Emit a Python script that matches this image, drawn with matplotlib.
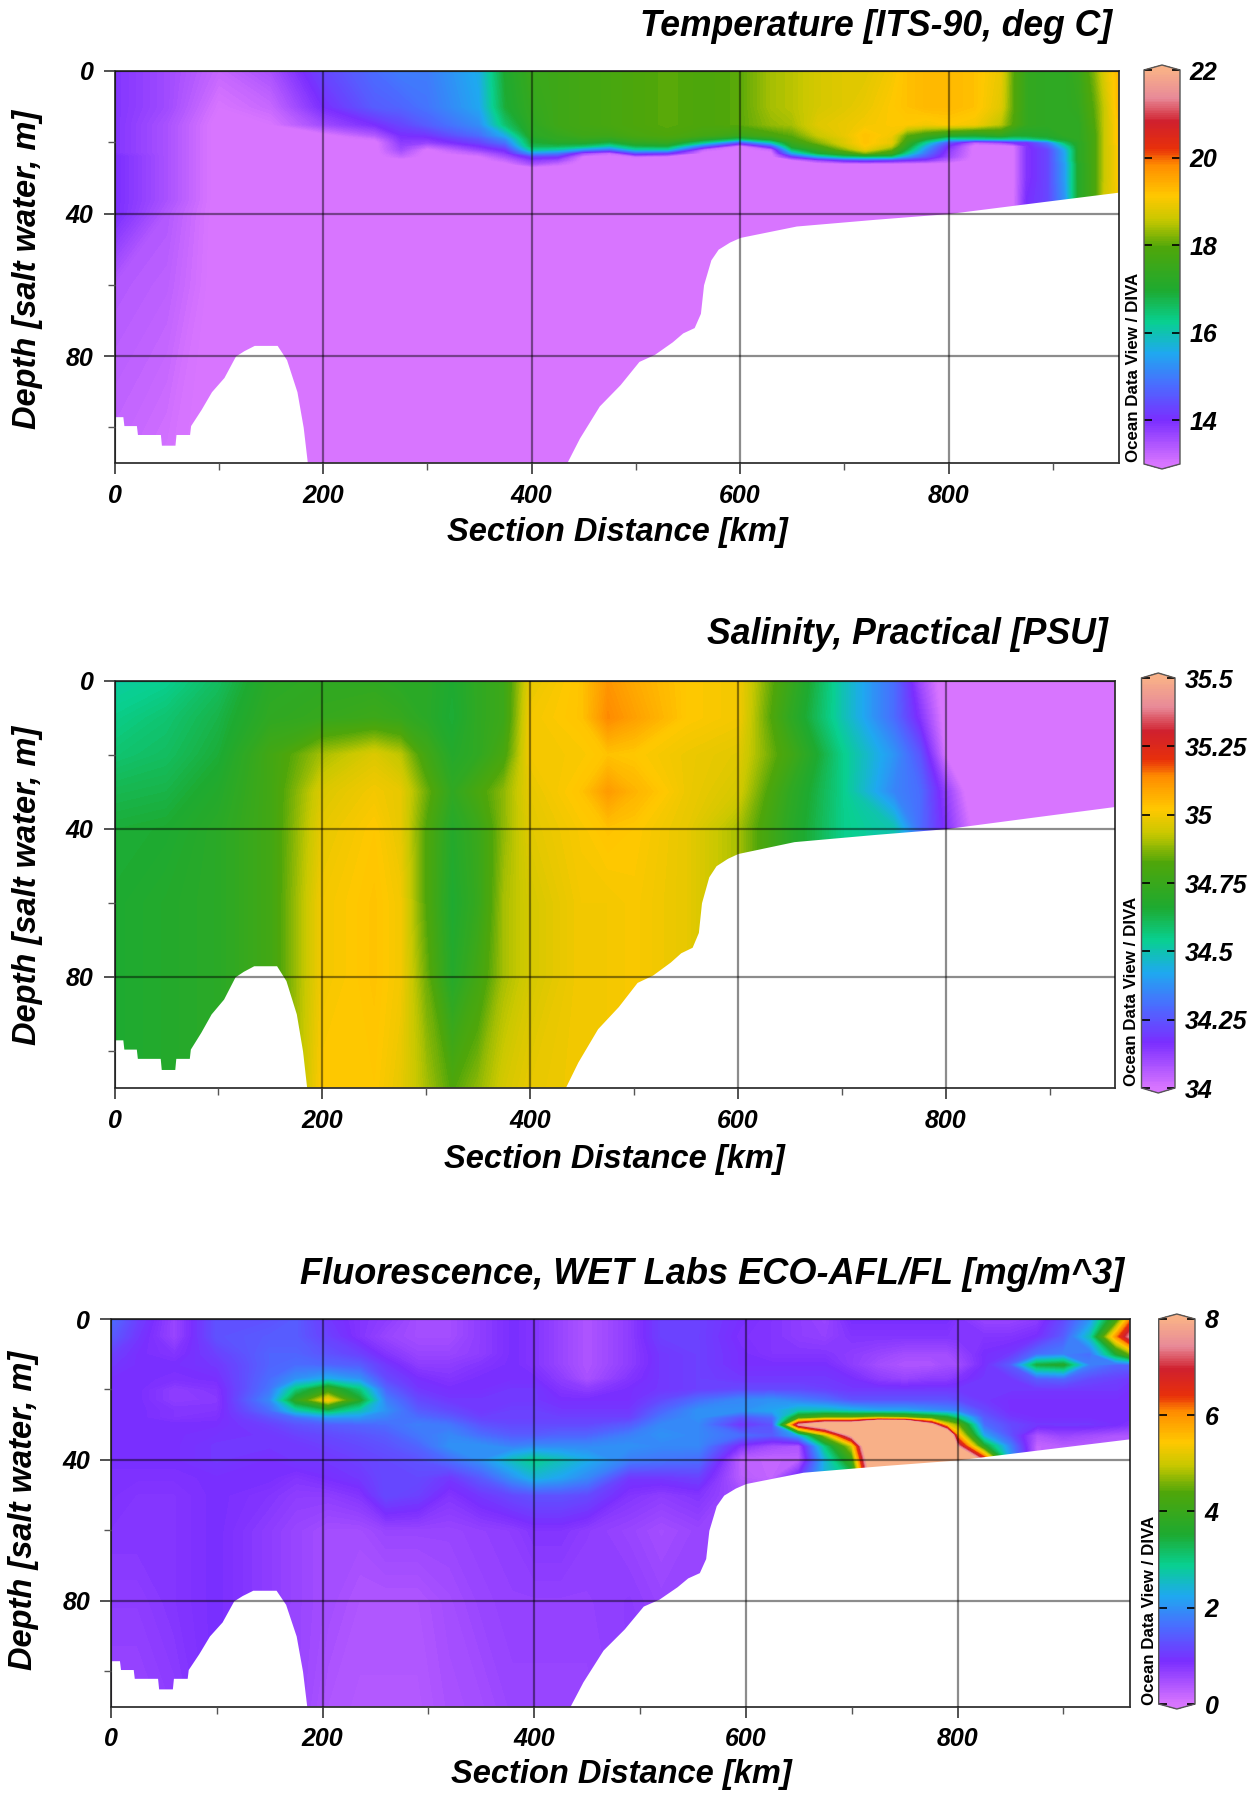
import numpy as np
import matplotlib
matplotlib.use('Agg')
import matplotlib.pyplot as plt
from matplotlib.colors import LinearSegmentedColormap

plt.rcParams['font.family'] = ['Liberation Sans', 'DejaVu Sans']
plt.rcParams['font.weight'] = 'bold'
plt.rcParams['font.style'] = 'italic'

W, H = 1257, 1794

# seafloor, same for all sections
bottom_x = [0, 8, 9, 21, 22, 44, 45, 58, 59, 72, 73, 83, 93, 105, 116, 124, 134, 156, 165, 175, 181, 185, 188,
            432, 446, 465, 485, 503, 518, 535, 545, 556, 562, 565, 568, 572, 579, 590, 600, 654, 730, 800, 873, 963]
bottom_z = [97, 97, 99.5, 99.5, 102, 102, 105, 105, 102, 102, 99.5, 95, 90, 86, 80, 78.5, 77, 77, 81, 90, 100, 110, 111,
            111, 103, 94, 88, 81.5, 79.5, 76, 73.5, 72, 68, 60, 57, 53, 50, 48, 46.7, 43.5, 41.6, 40, 37.3, 34]

# temperature, one line per station
temp_x = [0, 50, 100, 150, 200, 250, 275, 300, 350, 375, 400, 425, 450, 475, 500, 530, 565, 600, 630, 650, 675, 700,
          720, 745, 760, 778, 800, 825, 850, 862, 875, 895, 912, 925, 940, 950, 963]
temp_z = [0, 10, 15, 18, 19, 20, 21, 22, 23, 24, 25, 26, 27, 30, 36, 40, 60, 110]
temp = [
    [13.9, 13.9, 13.9, 13.9, 13.9, 13.9, 13.9, 13.9, 13.9, 14.0, 14.0, 14.0, 14.0, 14.0, 14.0, 14.0, 13.4, 13.2],
    [13.6, 13.6, 13.5, 13.5, 13.5, 13.5, 13.5, 13.5, 13.5, 13.5, 13.5, 13.5, 13.5, 13.5, 13.5, 13.4, 13.3, 13.05],
    [13.2, 13.0, 12.9, 12.9, 12.9, 12.9, 12.9, 12.9, 12.9, 12.9, 12.9, 12.9, 12.9, 12.9, 12.9, 12.9, 12.9, 12.9],
    [13.5, 13.2, 13.0, 12.9, 12.9, 12.9, 12.9, 12.9, 12.9, 12.9, 12.9, 12.9, 12.9, 12.9, 12.9, 12.9, 12.9, 12.9],
    [14.3, 14.0, 13.6, 12.9, 12.9, 12.9, 12.9, 12.9, 12.9, 12.9, 12.9, 12.9, 12.9, 12.9, 12.9, 12.9, 12.9, 12.9],
    [14.8, 14.6, 14.0, 13.4, 13.1, 12.9, 12.9, 12.9, 12.9, 12.9, 12.9, 12.9, 12.9, 12.9, 12.9, 12.9, 12.9, 12.9],
    [15.0, 14.7, 14.3, 14.0, 13.9, 13.8, 13.7, 13.6, 13.4, 13.2, 12.9, 12.9, 12.9, 12.9, 12.9, 12.9, 12.9, 12.9],
    [15.0, 14.9, 14.6, 14.1, 13.9, 13.7, 13.3, 12.95, 12.9, 12.9, 12.9, 12.9, 12.9, 12.9, 12.9, 12.9, 12.9, 12.9],
    [15.6, 15.5, 15.2, 14.8, 14.5, 14.3, 14.0, 13.7, 13.3, 13.0, 12.9, 12.9, 12.9, 12.9, 12.9, 12.9, 12.9, 12.9],
    [17.0, 16.9, 16.5, 15.6, 15.2, 14.9, 14.5, 14.1, 13.8, 13.5, 13.2, 12.95, 12.9, 12.9, 12.9, 12.9, 12.9, 12.9],
    [17.5, 17.4, 17.3, 17.2, 17.0, 16.9, 16.7, 16.2, 15.3, 14.2, 13.8, 13.5, 13.0, 12.9, 12.9, 12.9, 12.9, 12.9],
    [17.6, 17.6, 17.6, 17.4, 17.3, 17.1, 16.7, 16.0, 15.0, 14.1, 13.6, 13.2, 12.9, 12.9, 12.9, 12.9, 12.9, 12.9],
    [17.7, 17.7, 17.7, 17.6, 17.4, 17.1, 16.5, 15.3, 13.6, 12.95, 12.9, 12.9, 12.9, 12.9, 12.9, 12.9, 12.9, 12.9],
    [17.8, 17.8, 17.8, 17.6, 17.3, 16.8, 16.0, 14.8, 13.2, 12.9, 12.9, 12.9, 12.9, 12.9, 12.9, 12.9, 12.9, 12.9],
    [17.9, 17.9, 17.9, 17.8, 17.6, 17.3, 16.8, 16.0, 14.5, 13.1, 12.9, 12.9, 12.9, 12.9, 12.9, 12.9, 12.9, 12.9],
    [18.0, 18.0, 18.0, 17.9, 17.7, 17.4, 16.9, 16.0, 14.2, 12.95, 12.9, 12.9, 12.9, 12.9, 12.9, 12.9, 12.9, 12.9],
    [17.9, 17.9, 17.9, 17.7, 17.2, 16.3, 14.8, 13.2, 12.9, 12.9, 12.9, 12.9, 12.9, 12.9, 12.9, 12.9, 12.9, 12.9],
    [18.0, 18.0, 18.0, 17.5, 16.5, 14.5, 12.95, 12.9, 12.9, 12.9, 12.9, 12.9, 12.9, 12.9, 12.9, 12.9, 12.9, 12.9],
    [18.4, 18.4, 18.3, 17.8, 17.2, 16.0, 14.5, 13.2, 12.9, 12.9, 12.9, 12.9, 12.9, 12.9, 12.9, 12.9, 12.9, 12.9],
    [18.5, 18.5, 18.4, 18.0, 17.8, 17.5, 17.2, 16.5, 15.5, 14.0, 13.0, 12.9, 12.9, 12.9, 12.9, 12.9, 12.9, 12.9],
    [18.7, 18.7, 18.8, 18.6, 18.4, 18.2, 17.8, 17.4, 16.9, 15.5, 13.6, 12.9, 12.9, 12.9, 12.9, 12.9, 12.9, 12.9],
    [18.8, 18.8, 18.9, 18.9, 18.8, 18.8, 18.6, 18.2, 17.5, 16.3, 14.2, 13.0, 12.9, 12.9, 12.9, 12.9, 12.9, 12.9],
    [18.8, 18.9, 19.0, 19.2, 19.2, 19.2, 19.1, 18.9, 18.2, 16.5, 14.4, 13.0, 12.9, 12.9, 12.9, 12.9, 12.9, 12.9],
    [19.0, 19.1, 19.1, 19.0, 18.9, 18.9, 18.6, 18.1, 17.6, 16.4, 14.2, 13.0, 12.9, 12.9, 12.9, 12.9, 12.9, 12.9],
    [19.2, 19.2, 19.1, 18.0, 17.8, 17.5, 17.2, 16.8, 16.2, 15.3, 14.0, 12.95, 12.9, 12.9, 12.9, 12.9, 12.9, 12.9],
    [19.3, 19.3, 19.0, 17.6, 17.0, 16.2, 15.6, 15.2, 14.9, 14.5, 13.8, 12.95, 12.9, 12.9, 12.9, 12.9, 12.9, 12.9],
    [19.3, 19.3, 19.1, 17.2, 16.0, 14.5, 14.0, 13.8, 13.7, 13.6, 13.3, 12.95, 12.9, 12.9, 12.9, 12.9, 12.9, 12.9],
    [19.2, 19.2, 19.0, 17.0, 16.2, 13.3, 12.9, 12.9, 12.9, 12.9, 12.9, 12.9, 12.9, 12.9, 12.9, 12.9, 12.9, 12.9],
    [18.9, 18.8, 18.5, 17.3, 16.3, 13.6, 12.9, 12.9, 12.9, 12.9, 12.9, 12.9, 12.9, 12.9, 12.9, 12.9, 12.9, 12.9],
    [18.0, 18.0, 17.9, 17.0, 16.2, 14.0, 13.0, 12.95, 12.95, 12.95, 12.95, 12.95, 12.95, 12.95, 12.95, 12.95, 12.95, 12.95],
    [17.4, 17.4, 17.4, 17.0, 16.3, 14.0, 13.9, 13.9, 13.9, 13.9, 13.9, 13.9, 13.9, 13.9, 14.0, 14.0, 14.0, 14.0],
    [17.3, 17.3, 17.3, 17.1, 16.7, 15.0, 14.6, 14.3, 14.3, 14.3, 14.3, 14.3, 14.3, 14.3, 14.3, 14.3, 14.3, 14.3],
    [17.3, 17.3, 17.3, 17.3, 17.1, 16.6, 16.0, 15.6, 15.5, 15.5, 15.5, 15.4, 15.4, 15.4, 15.3, 15.3, 15.3, 15.3],
    [17.5, 17.4, 17.3, 17.3, 17.3, 17.2, 17.2, 17.2, 17.2, 17.2, 17.2, 17.1, 17.1, 17.1, 17.1, 17.1, 17.1, 17.1],
    [18.2, 18.0, 17.9, 17.8, 17.8, 17.8, 17.8, 17.8, 17.8, 17.8, 17.8, 17.8, 17.8, 17.8, 17.8, 17.8, 17.8, 17.8],
    [18.8, 18.6, 18.6, 18.6, 18.6, 18.6, 18.6, 18.6, 18.6, 18.6, 18.6, 18.6, 18.6, 18.6, 18.7, 18.7, 18.7, 18.7],
    [19.3, 19.3, 19.2, 19.2, 19.2, 19.2, 19.1, 19.1, 19.1, 19.1, 19.1, 19.1, 19.1, 19.1, 19.0, 18.3, 18.3, 18.3],
]

# salinity
sal_x = [0, 50, 100, 150, 200, 250, 275, 300, 325, 350, 375, 400, 450, 475, 500, 550, 600, 650, 700, 750, 775, 800,
         825, 963]
sal_z = [0, 10, 20, 30, 40, 60, 80, 110]
sal = [
    [34.52, 34.55, 34.58, 34.62, 34.65, 34.66, 34.66, 34.66],
    [34.54, 34.58, 34.60, 34.63, 34.66, 34.68, 34.68, 34.68],
    [34.60, 34.63, 34.65, 34.68, 34.70, 34.70, 34.70, 34.70],
    [34.70, 34.72, 34.78, 34.78, 34.78, 34.78, 34.78, 34.78],
    [34.72, 34.74, 34.90, 34.96, 34.98, 35.00, 35.00, 35.02],
    [34.72, 34.76, 34.96, 35.00, 35.02, 35.03, 35.03, 35.02],
    [34.70, 34.74, 34.92, 34.98, 34.98, 35.00, 35.00, 34.98],
    [34.70, 34.70, 34.78, 34.85, 34.82, 34.82, 34.85, 34.90],
    [34.66, 34.65, 34.68, 34.72, 34.68, 34.66, 34.68, 34.82],
    [34.72, 34.72, 34.72, 34.80, 34.75, 34.74, 34.78, 34.88],
    [34.76, 34.76, 34.80, 34.88, 34.88, 34.90, 34.90, 34.95],
    [34.98, 35.00, 35.00, 34.98, 34.97, 34.95, 34.95, 34.98],
    [35.03, 35.03, 35.01, 35.03, 35.01, 35.00, 35.00, 35.00],
    [35.12, 35.14, 35.03, 35.11, 35.03, 35.00, 35.00, 35.00],
    [35.08, 35.10, 35.02, 35.06, 35.02, 35.01, 35.01, 35.01],
    [35.02, 35.02, 34.99, 34.99, 34.98, 34.98, 34.98, 34.98],
    [35.00, 35.00, 34.97, 34.95, 34.90, 34.90, 34.90, 34.90],
    [34.75, 34.72, 34.78, 34.72, 34.70, 34.70, 34.70, 34.70],
    [34.50, 34.50, 34.55, 34.55, 34.55, 34.55, 34.55, 34.55],
    [34.30, 34.30, 34.38, 34.35, 34.50, 34.50, 34.50, 34.50],
    [34.10, 34.15, 34.25, 34.30, 34.30, 34.30, 34.30, 34.30],
    [33.95, 33.97, 34.00, 34.12, 34.15, 34.15, 34.15, 34.15],
    [33.90, 33.90, 33.92, 33.95, 34.00, 34.00, 34.00, 34.00],
    [33.90, 33.90, 33.90, 33.90, 33.90, 33.90, 33.90, 33.90],
]

# fluorescence
flu_x = [0, 25, 60, 100, 150, 175, 205, 235, 260, 290, 320, 350, 380, 400, 425, 450, 490, 520, 555, 595, 625, 650,
         675, 700, 725, 750, 775, 790, 800, 825, 850, 875, 900, 925, 950, 963]
flu_z = [0, 5, 10, 13, 17, 20, 23, 26, 28, 30, 33, 36, 40, 45, 50, 60, 80, 110]
flu = [
    [1.6, 1.4, 1.1, 1.0, .9, .9, .9, .9, .9, .9, .9, .9, .9, .85, .85, .8, .7, .6],
    [1.1, 1.0, .9, .9, .9, .9, .9, .9, .9, .9, .9, .9, .9, .85, .8, .8, .7, .6],
    [.6, .6, .8, .9, .85, .7, .7, .8, .8, .9, .9, .9, .9, .85, .8, .8, .8, .7],
    [1.3, 1.3, 1.1, 1.0, .9, .8, .75, .8, .85, .9, .95, 1.0, 1.0, .9, .9, .9, .9, .9],
    [1.3, 1.4, 1.5, 1.5, 1.6, 1.7, 1.9, 1.6, 1.3, 1.1, 1.0, 1.0, .9, .9, .8, .7, .7, .6],
    [1.4, 1.4, 1.5, 1.6, 2.0, 3.0, 3.8, 2.6, 1.6, 1.3, 1.1, 1.0, 1.0, .8, .7, .6, .6, .6],
    [1.0, 1.1, 1.3, 1.5, 2.3, 4.0, 5.4, 3.2, 2.0, 1.4, 1.2, 1.1, 1.0, .9, .7, .5, .5, .4],
    [.8, .8, 1.1, 1.4, 2.0, 3.0, 3.6, 2.6, 2.0, 1.5, 1.3, 1.2, 1.1, 1.0, .8, .5, .4, .35],
    [.7, .6, .8, 1.0, 1.2, 1.5, 1.8, 2.0, 1.8, 1.6, 1.4, 1.3, 1.2, 1.2, 1.2, .6, .4, .35],
    [.5, .5, .6, .7, .9, 1.0, 1.2, 1.4, 1.6, 1.8, 1.7, 1.5, 1.3, 1.2, 1.1, .6, .4, .35],
    [.5, .5, .6, .7, .8, .9, 1.0, 1.2, 1.4, 1.7, 1.9, 2.0, 1.6, 1.0, .8, .6, .5, .45],
    [.7, .7, .7, .8, .9, .9, 1.0, 1.0, 1.1, 1.3, 1.6, 2.0, 2.0, 1.4, 1.0, .65, .6, .5],
    [.9, .9, .9, .9, .9, 1.0, 1.0, 1.1, 1.1, 1.2, 1.4, 1.8, 2.6, 2.0, 1.2, .7, .65, .6],
    [.8, .8, .8, .8, .9, 1.0, 1.0, 1.1, 1.1, 1.2, 1.4, 1.9, 2.9, 2.4, 1.3, .8, .65, .6],
    [.6, .6, .6, .6, .7, .8, .9, 1.0, 1.1, 1.2, 1.5, 1.9, 2.6, 2.2, 1.3, .8, .65, .6],
    [.4, .4, .4, .4, .45, .7, .9, 1.0, 1.1, 1.2, 1.5, 1.9, 2.3, 1.9, 1.2, .7, .65, .6],
    [.7, .7, .7, .7, .8, .9, .9, 1.0, 1.1, 1.4, 1.8, 2.0, 1.8, 1.0, .8, .6, .7, .7],
    [1.1, 1.1, 1.0, 1.0, 1.0, 1.0, 1.2, 1.5, 1.7, 1.9, 2.0, 1.9, 1.7, 1.0, .7, .5, .6, .7],
    [1.1, 1.1, 1.1, 1.1, 1.1, 1.1, 1.6, 2.0, 2.0, 1.9, 1.9, 1.9, 1.6, 1.1, .8, .6, .6, .6],
    [.9, .85, .9, .9, 1.0, 1.2, 1.9, 2.0, 1.3, .95, 1.6, .8, .25, .3, .5, .6, .6, .5],
    [.8, .8, .8, .9, 1.0, 1.2, 2.0, 2.2, 1.6, 1.3, 1.4, .5, .2, .2, .5, .6, .6, .5],
    [.7, .7, .8, .9, 1.0, 1.2, 1.8, 2.6, 4.0, 7.5, 2.2, .4, .25, 1.0, 1.0, 1.0, 1.0, 1.0],
    [.6, .65, .8, .9, 1.0, 1.1, 1.6, 2.6, 4.5, 9.0, 4.8, 3.0, 2.4, 2.4, 2.4, 2.4, 2.4, 2.4],
    [.9, .8, .7, .7, .9, 1.0, 1.3, 2.4, 4.5, 9.0, 8.0, 5.0, 4.0, 3.0, 3.0, 3.0, 3.0, 3.0],
    [.9, .8, .6, .5, .7, 1.0, 1.3, 2.2, 4.8, 12, 12, 12, 11, 10, 10, 10, 10, 10],
    [.9, .8, .5, .4, .6, 1.0, 1.3, 2.2, 4.6, 12, 12, 12, 12, 12, 12, 12, 12, 12],
    [.9, .8, .5, .4, .7, 1.0, 1.3, 2.0, 4.0, 8.0, 12, 12, 12, 12, 12, 12, 12, 12],
    [.9, .8, .5, .5, .7, 1.0, 1.3, 1.9, 3.6, 5.2, 10, 12, 12, 12, 12, 12, 12, 12],
    [.8, .8, .6, .5, .8, 1.0, 1.2, 1.8, 3.0, 4.6, 5.8, 7.5, 12, 12, 12, 12, 12, 12],
    [.6, .8, .9, .9, 1.0, 1.0, 1.0, 1.2, 1.4, 1.6, 2.2, 3.6, 7.0, 7.0, 7.0, 7.0, 7.0, 7.0],
    [.6, .8, 1.0, 1.4, 1.0, 1.0, .9, .9, 1.0, 1.2, 1.3, 1.8, 2.2, 2.2, 2.2, 2.2, 2.2, 2.2],
    [.7, .9, 1.6, 3.4, 1.4, 1.0, .9, .9, .9, 1.0, .4, .2, .2, .2, .2, .2, .2, .2],
    [1.2, 1.4, 1.8, 3.6, 1.5, 1.0, .9, .9, .9, 1.0, .6, .3, .3, .3, .3, .3, .3, .3],
    [2.0, 2.6, 1.6, 1.8, 1.2, 1.0, .9, .9, .9, 1.0, .5, .3, .3, .3, .3, .3, .3, .3],
    [4.0, 6.0, 3.5, 1.5, 1.1, 1.0, .9, .9, .9, .9, .4, .3, .3, .3, .3, .3, .3, .3],
    [6.0, 7.5, 4.5, 1.5, 1.0, .9, .9, .9, .9, .8, .4, .3, .3, .3, .3, .3, .3, .3],
]

temp_ticks = [14, 16, 18, 20, 22]
sal_ticks = [34, 34.25, 34.5, 34.75, 35, 35.25, 35.5]
flu_ticks = [0, 2, 4, 6, 8]

odv = LinearSegmentedColormap.from_list('odv', [
    (0.0, '#D875FF'), (0.11, '#7A2EFF'), (0.2, '#4A6CFF'), (0.28, '#1FA8F0'), (0.36, '#08D090'),
    (0.44, '#1EAA30'), (0.55, '#4FA60A'), (0.62, '#C8C800'), (0.68, '#FFC800'), (0.76, '#FF8C00'),
    (0.80, '#E8300A'), (0.87, '#D0202E'), (0.93, '#E88A98'), (1.0, '#F8B088')], N=512)
odv.set_under('#D875FF')
odv.set_over('#F8B088')

fig = plt.figure(figsize=(W / 100, H / 100), dpi=100)


def box(l, t, r, b):
    return [l / W, 1 - b / H, (r - l) / W, (b - t) / H]


def section(rect, cbar_rect, xs, zs, values, vmin, vmax, ticks, labels, title, title_pos, title_size, xlabel_pos,
            ylabel_pos, odv_y, odv_x):
    ax = fig.add_axes(box(*rect))
    v = np.array(values).T
    levels = np.linspace(vmin, vmax, 220)
    cs = ax.contourf(xs, zs, v, levels=levels, cmap=odv, extend='both', zorder=1)
    ax.fill_between(bottom_x, bottom_z, 111, color='white', lw=0, zorder=2)
    ax.set_xlim(0, 963)
    ax.set_ylim(110, 0)
    ax.set_xticks([0, 200, 400, 600, 800])
    ax.set_xticks([100, 300, 500, 700, 900], minor=True)
    ax.set_yticks([0, 40, 80])
    ax.set_yticks([20, 60, 100], minor=True)
    ax.tick_params(axis='both', which='major', length=8, width=1.2, labelsize=18, pad=7, color='#333333')
    ax.tick_params(axis='both', which='minor', length=5, width=1.0, color='#555555')
    ax.grid(True, which='major', color='black', alpha=0.45, lw=1.6, zorder=3)
    ax.set_axisbelow(False)
    for s in ax.spines.values():
        s.set_color('#333333')
        s.set_linewidth(1.3)

    # colour bar, rect includes the small end caps
    t, b = cbar_rect[1], cbar_rect[3]
    cax = fig.add_axes(box(cbar_rect[0], t - 5, cbar_rect[2], b + 5))
    cb = fig.colorbar(cs, cax=cax, extendfrac=5 / (b - t), ticks=ticks)
    cb.ax.set_yticklabels(labels)
    cb.ax.tick_params(which='major', direction='in', left=True, right=True, length=6, width=1.2, labelsize=18, pad=7)
    cb.ax.minorticks_off()
    cb.outline.set_edgecolor('#555555')
    cb.outline.set_linewidth(1.0)

    fig.text(title_pos[0] / W, 1 - title_pos[1] / H, title, fontsize=title_size, ha='right', va='center')
    fig.text(xlabel_pos[0] / W, 1 - xlabel_pos[1] / H, 'Section Distance [km]', fontsize=23.5, ha='center', va='center')
    fig.text(ylabel_pos[0] / W, 1 - ylabel_pos[1] / H, 'Depth [salt water, m]', fontsize=23.5, rotation=90,
             ha='center', va='center')
    fig.text(odv_x / W, 1 - odv_y / H, 'Ocean Data View / DIVA', fontsize=12.2, rotation=90, ha='center', va='bottom',
             style='normal')


section((114.5, 71, 1118.5, 463), (1144, 70, 1180, 464), temp_x, temp_z, temp, 13, 22, temp_ticks,
        ['14', '16', '18', '20', '22'], 'Temperature [ITS-90, deg C]', (1112, 26), 25.6, (617, 532), (28, 269), 462, 1134)
section((114.5, 680.5, 1115, 1088), (1141.5, 678, 1175, 1088), sal_x, sal_z, sal, 34, 35.5, sal_ticks,
        ['34', '34.25', '34.5', '34.75', '35', '35.25', '35.5'], 'Salinity, Practical [PSU]', (1108, 634), 25.7,
        (614, 1159), (28, 885), 1086, 1131)
section((111, 1319, 1130, 1706.5), (1158.7, 1319, 1195, 1704), flu_x, flu_z, flu, 0, 8, flu_ticks,
        ['0', '2', '4', '6', '8'], 'Fluorescence, WET Labs ECO-AFL/FL [mg/m^3]', (1124, 1274), 26, (621, 1774),
        (24, 1510), 1705, 1149)

fig.savefig('out.png', dpi=100, facecolor='white')
